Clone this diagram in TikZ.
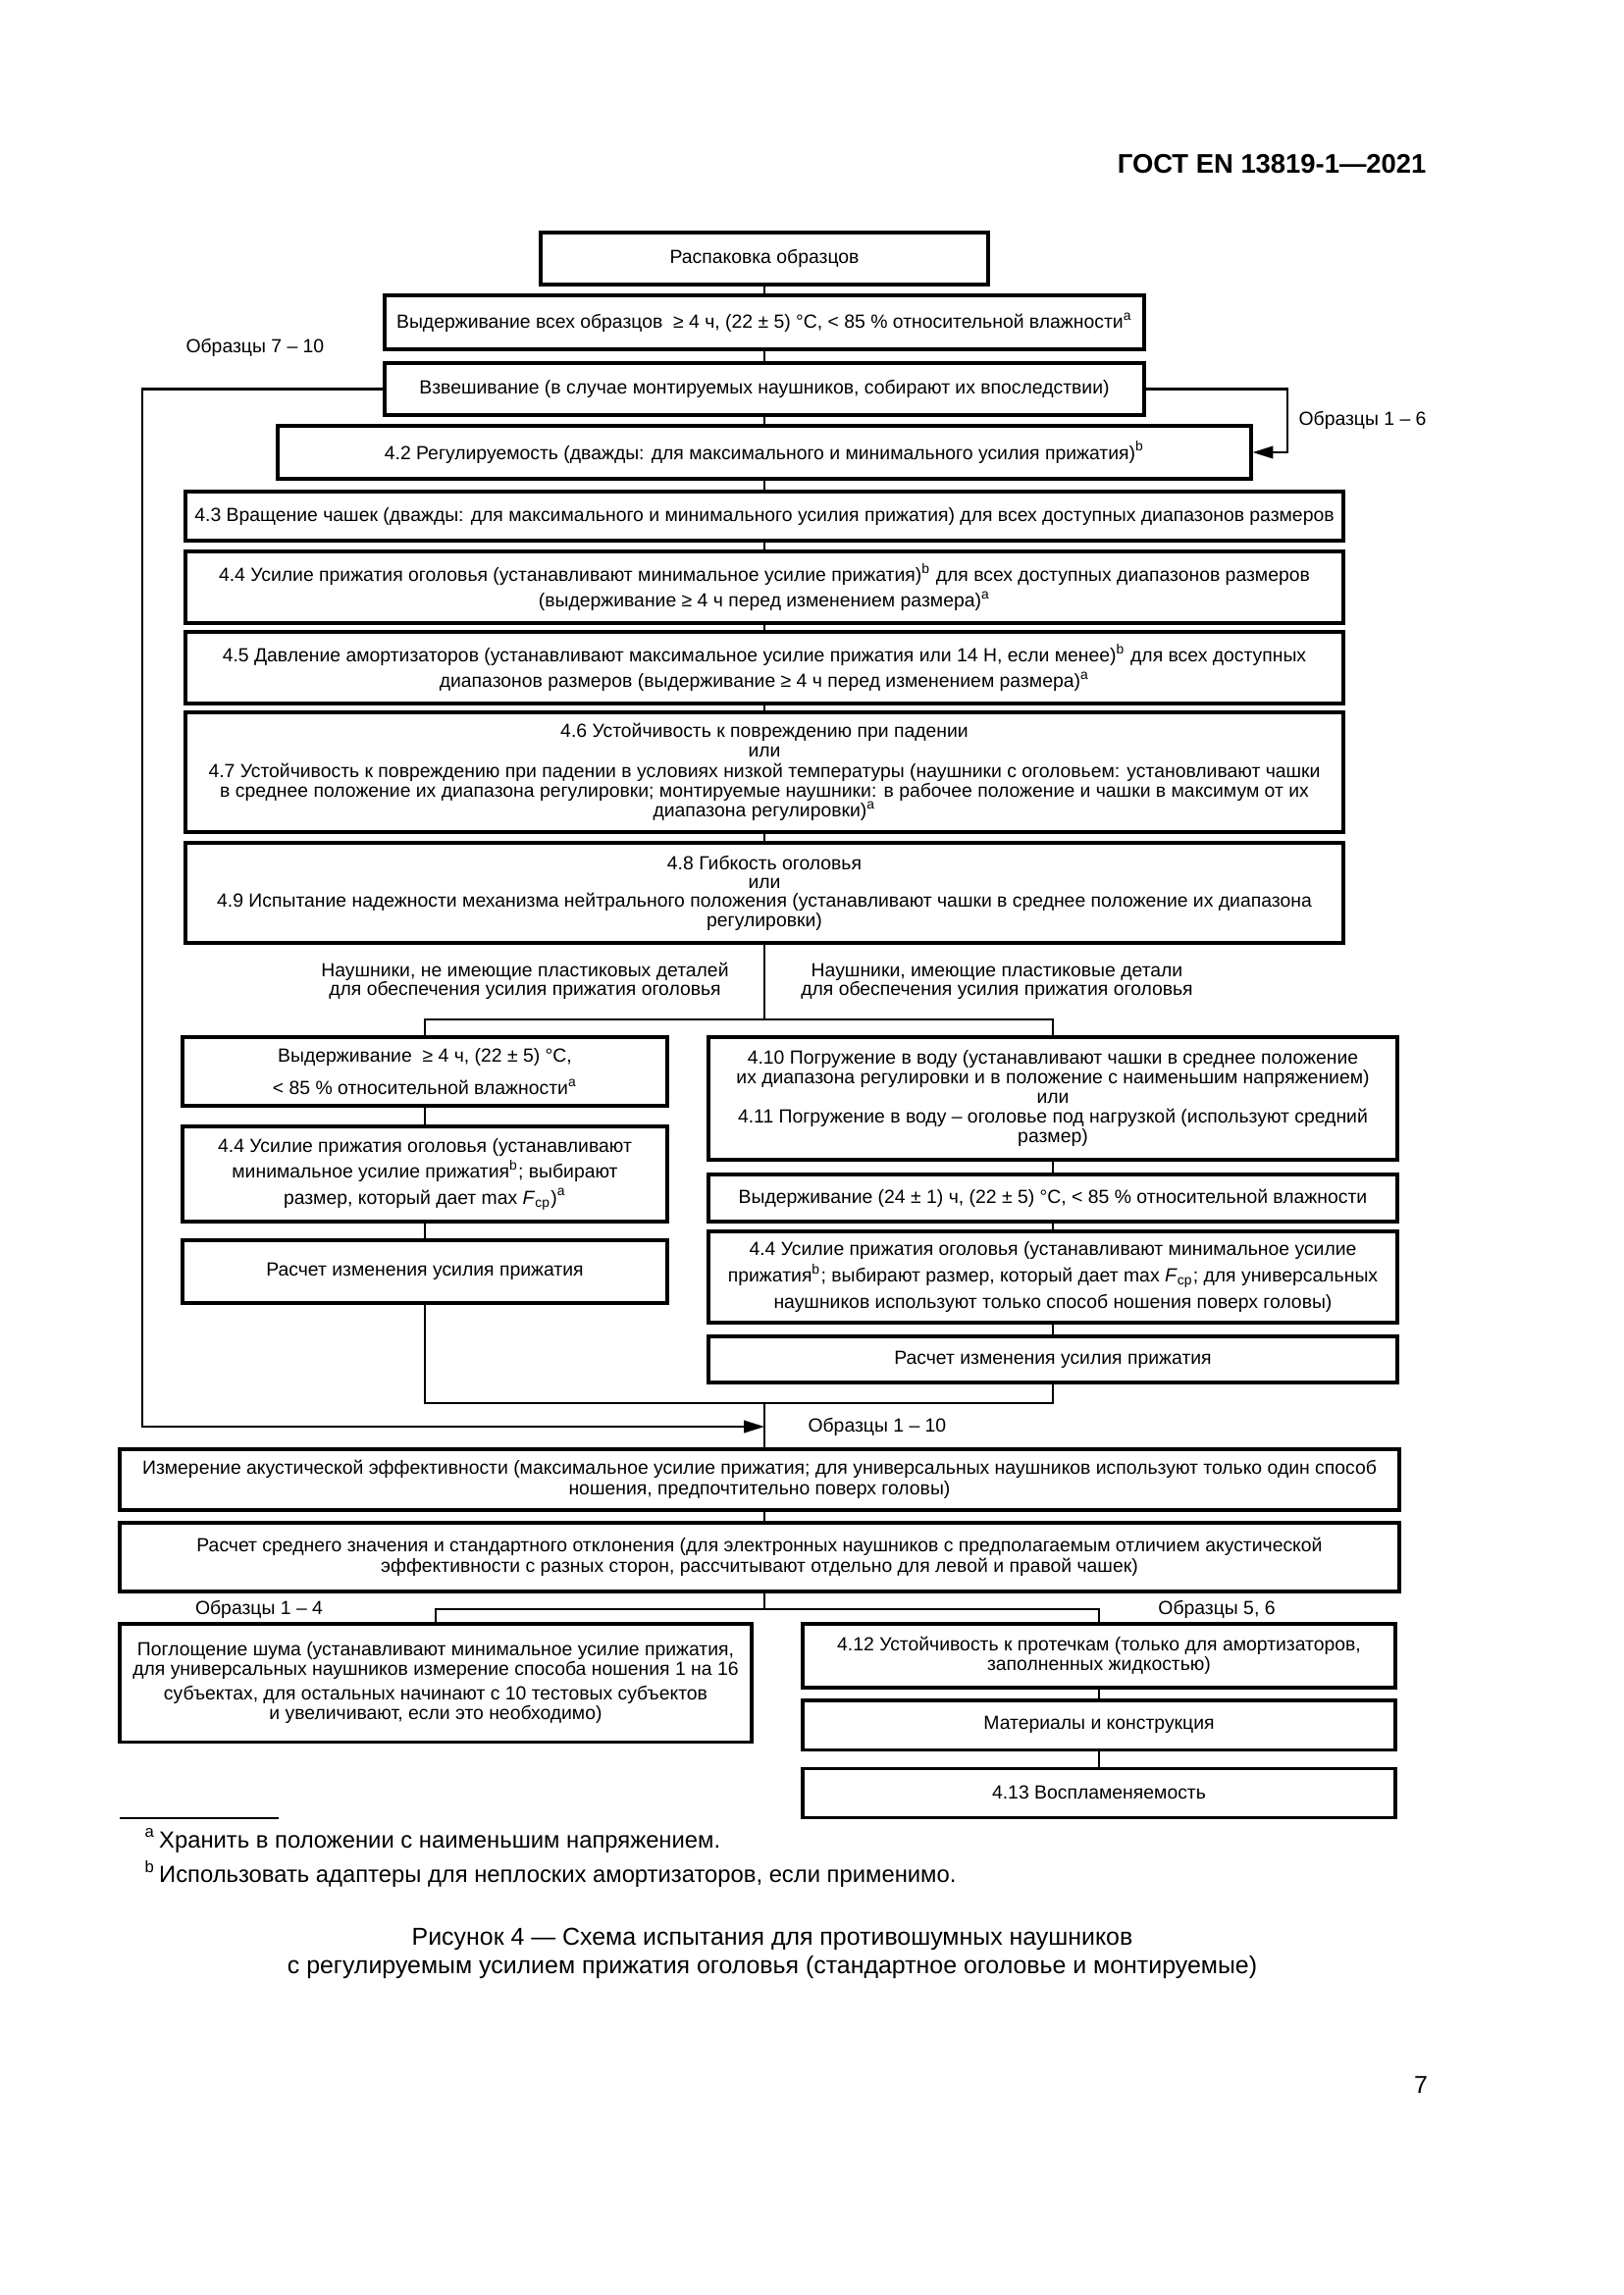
\documentclass[tikz,border=0pt]{standalone}
\usepackage{fontspec}
\setmainfont{Liberation Sans}
\usetikzlibrary{arrows.meta}
\newdimen\pxu \pxu=0.12697mm
\tikzset{
  pbox/.style n args={4}{draw, line width=1.1pt, inner sep=0pt, align=center,
    minimum width={(#3-#1)*\pxu}, minimum height={(#4-#2)*\pxu},
    at={({(#1+#3)/2},{(#2+#4)/2})}},
  ld/.style={font={\fontsize{7}{#1}\selectfont\lineskiplimit=-20pt}},
  ld/.default=7.3,
  lbl/.style={inner sep=0pt, align=center, font={\fontsize{7}{6.9}\selectfont\lineskiplimit=-20pt}},
  ln/.style={line width=0.8pt},
  arr/.style={line width=0.8pt, -{Triangle[length=7.5pt,width=4.5pt]}},
}
\begin{document}
\begin{tikzpicture}[x=0.12697mm,y=-0.12697mm]
\useasboundingbox[fill=white] (0,0) rectangle (1654,2339);

\node[anchor=east, inner sep=0pt, font={\bfseries\fontsize{9.9}{11}\selectfont}] (hdr) at (1454,167) {ГОСТ EN 13819-1—2021};

% main column
\node[pbox={551}{237}{1007}{290}, ld] (b1) {Распаковка образцов};
\node[pbox={392}{301}{1166}{356}, ld] (b2) {Выдерживание всех образцов \ ≥ 4 ч, (22 ± 5) °C, < 85 \% относительной влажности\textsuperscript{a}};
\node[pbox={392}{370}{1166}{423}, ld] (b3) {Взвешивание (в случае монтируемых наушников, собирают их впоследствии)};
\node[pbox={283}{434}{1275}{488}, ld] (b4) {4.2 Регулируемость (дважды: для максимального и минимального усилия прижатия)\textsuperscript{b}};
\node[pbox={189}{501}{1369}{551}, ld] (b5) {4.3 Вращение чашек (дважды: для максимального и минимального усилия прижатия) для всех доступных диапазонов размеров};
\node[pbox={189}{562}{1369}{635}, ld=9.6] (b6) {4.4 Усилие прижатия оголовья (устанавливают минимальное усилие прижатия)\textsuperscript{b} для всех доступных диапазонов размеров\\(выдерживание ≥ 4 ч перед изменением размера)\textsuperscript{a}};
\node[pbox={189}{644}{1369}{717}, ld=9.6] (b7) {4.5 Давление амортизаторов (устанавливают максимальное усилие прижатия или 14 Н, если менее)\textsuperscript{b} для всех доступных\\диапазонов размеров (выдерживание ≥ 4 ч перед изменением размера)\textsuperscript{a}};
\node[pbox={189}{726}{1369}{848}, ld=7.3] (b8) {4.6 Устойчивость к повреждению при падении\\или\\4.7 Устойчивость к повреждению при падении в условиях низкой температуры (наушники с оголовьем: установливают чашки\\в среднее положение их диапазона регулировки; монтируемые наушники: в рабочее положение и чашки в максимум от их\\диапазона регулировки)\textsuperscript{a}};
\node[pbox={189}{859}{1369}{961}, ld=7.0] (b9) {4.8 Гибкость оголовья\\или\\4.9 Испытание надежности механизма нейтрального положения (устанавливают чашки в среднее положение их диапазона\\регулировки)};

% side labels
\node[lbl, anchor=west] (s710) at (189,354) {Образцы 7 – 10};
\node[lbl, anchor=west] (s16) at (1323,428) {Образцы 1 – 6};
\node[lbl] (nl) at (535,1000) {Наушники, не имеющие пластиковых деталей\\для обеспечения усилия прижатия оголовья};
\node[lbl] (nr) at (1016,1000) {Наушники, имеющие пластиковые детали\\для обеспечения усилия прижатия оголовья};

% left column
\node[pbox={186}{1057}{680}{1127}, ld=12.2] (L1) {Выдерживание \ ≥ 4 ч, (22 ± 5) °C,\\< 85 \% относительной влажности\textsuperscript{a}};
\node[pbox={186}{1148}{680}{1245}, ld=9.6] (L2) {4.4 Усилие прижатия оголовья (устанавливают\\минимальное усилие прижатия\textsuperscript{b}; выбирают\\размер, который дает max \textit{F}\textsubscript{ср})\textsuperscript{a}};
\node[pbox={186}{1264}{680}{1328}, ld] (L3) {Расчет изменения усилия прижатия};

% right column
\node[pbox={722}{1057}{1424}{1182}, ld=7.2] (R1) {4.10 Погружение в воду (устанавливают чашки в среднее положение\\их диапазона регулировки и в положение с наименьшим напряжением)\\или\\4.11 Погружение в воду – оголовье под нагрузкой (используют средний\\размер)};
\node[pbox={722}{1197}{1424}{1245}, ld] (R2) {Выдерживание (24 ± 1) ч, (22 ± 5) °C, < 85 \% относительной влажности};
\node[pbox={722}{1255}{1424}{1348}, ld=9.6] (R3) {4.4 Усилие прижатия оголовья (устанавливают минимальное усилие\\прижатия\textsuperscript{b}; выбирают размер, который дает max \textit{F}\textsubscript{ср}; для универсальных\\наушников используют только способ ношения поверх головы)};
\node[pbox={722}{1362}{1424}{1409}, ld] (R4) {Расчет изменения усилия прижатия};

\node[lbl, anchor=west] (s110) at (823,1454) {Образцы 1 – 10};

% merged
\node[pbox={122}{1477}{1426}{1539}, ld=7.8] (M1) {Измерение акустической эффективности (максимальное усилие прижатия; для универсальных наушников используют только один способ\\ношения, предпочтительно поверх головы)};
\node[pbox={122}{1552}{1426}{1622}, ld=7.8] (M2) {Расчет среднего значения и стандартного отклонения (для электронных наушников с предполагаемым отличием акустической\\эффективности с разных сторон, рассчитывают отдельно для левой и правой чашек)};

\node[lbl] (s14) at (264,1640) {Образцы 1 – 4};
\node[lbl] (s56) at (1240,1640) {Образцы 5, 6};

\node[pbox={122}{1655}{766}{1775}, ld=7.3] (B1) {Поглощение шума (устанавливают минимальное усилие прижатия,\\для универсальных наушников измерение способа ношения 1 на 16\\[1.6pt]субъектах, для остальных начинают с 10 тестовых субъектов\\и увеличивают, если это необходимо)};
\node[pbox={818}{1655}{1422}{1720}, ld=7.3] (B2) {4.12 Устойчивость к протечкам (только для амортизаторов,\\заполненных жидкостью)};
\node[pbox={818}{1733}{1422}{1783}, ld] (B3) {Материалы и конструкция};
\node[pbox={818}{1802}{1422}{1852}, ld] (B4) {4.13 Воспламеняемость};

% junction coordinates
\coordinate (j1) at (779,1039);
\coordinate (j2) at (779,1430);
\coordinate (j3) at (779,1640);
\coordinate (lp) at (145,1454);
\coordinate (rp) at (1312,461);

% connectors
\draw[ln] (b1.south) -- (b2.north);
\draw[ln] (b2.south) -- (b3.north);
\draw[ln] (b3.south) -- (b4.north);
\draw[ln] (b4.south) -- (b5.north);
\draw[ln] (b5.south) -- (b6.north);
\draw[ln] (b6.south) -- (b7.north);
\draw[ln] (b7.south) -- (b8.north);
\draw[ln] (b8.south) -- (b9.north);
\draw[arr] (b3.west) -| (lp) -- (j2 |- lp);
\draw[arr] (b3.east) -| (rp) -- (b4.east);
\draw[ln] (b9.south) -- (j1);
\draw[ln] (L1.north) -- (L1.north |- j1) -- (R1.north |- j1) -- (R1.north);
\draw[ln] (L1.south) -- (L2.north);
\draw[ln] (L2.south) -- (L3.north);
\draw[ln] (R1.south) -- (R2.north);
\draw[ln] (R2.south) -- (R3.north);
\draw[ln] (R3.south) -- (R4.north);
\draw[ln] (L3.south) -- (L3.south |- j2) -- (R4.south |- j2) -- (R4.south);
\draw[ln] (j2) -- (j2 |- M1.north);
\draw[ln] (j2 |- M1.south) -- (j2 |- M2.north);
\draw[ln] (j2 |- M2.south) -- (j3);
\draw[ln] (B1.north) -- (B1.north |- j3) -- (B2.north |- j3) -- (B2.north);
\draw[ln] (B2.south) -- (B3.north);
\draw[ln] (B3.south) -- (B4.north);

% footnotes
\draw[line width=0.6pt] (122,1853) -- (284,1853);
\node[anchor=west, inner sep=0pt, font={\fontsize{8.6}{10}\selectfont}] (fa) at (147,1876) {\textsuperscript{a}\,Хранить в положении с наименьшим напряжением.};
\node[anchor=west, inner sep=0pt, font={\fontsize{8.6}{10}\selectfont}] (fb) at (147,1910) {\textsuperscript{b}\,Использовать адаптеры для неплоских амортизаторов, если применимо.};

% caption
\node[align=center, inner sep=0pt, font={\fontsize{9}{10.6}\selectfont}] (cap) at (787,1991) {Рисунок 4 — Схема испытания для противошумных наушников\\с регулируемым усилием прижатия оголовья (стандартное оголовье и монтируемые)};

\node[inner sep=0pt, font={\fontsize{9}{11}\selectfont}] (pg) at (1448,2125) {7};
\end{tikzpicture}
\end{document}
